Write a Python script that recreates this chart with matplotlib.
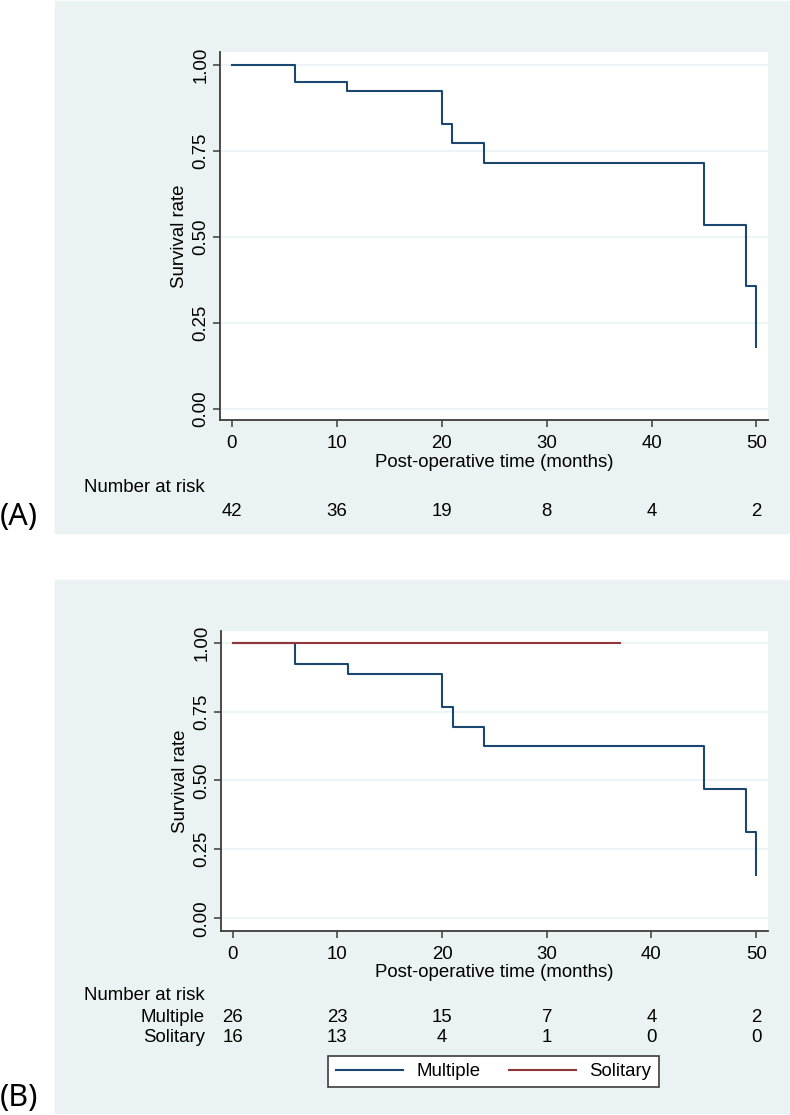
import matplotlib
matplotlib.use("Agg")
import matplotlib.pyplot as plt
from matplotlib.patches import Rectangle
from matplotlib.lines import Line2D
import matplotlib.transforms as transforms

plt.rcParams['font.family'] = ['Liberation Sans', 'DejaVu Sans']

# data
times = [0, 6, 11, 20, 21, 24, 45, 49, 50]
surv_all = [1.0, 0.952, 0.925, 0.828, 0.772, 0.714, 0.535, 0.357, 0.180]
surv_multiple = [1.0, 0.923, 0.885, 0.765, 0.695, 0.625, 0.469, 0.313, 0.156]
times_solitary = [0, 37]
surv_solitary = [1.0, 1.0]

risk_times = [0, 10, 20, 30, 40, 50]
risk_all = [42, 36, 19, 8, 4, 2]
risk_multiple = [26, 23, 15, 7, 4, 2]
risk_solitary = [16, 13, 4, 1, 0, 0]

yticks = [0.0, 0.25, 0.5, 0.75, 1.0]
ytick_labels = ["0.00", "0.25", "0.50", "0.75", "1.00"]

W, H = 790, 1115
bg = "#eaf2f3"
blue = "#1a476f"
red = "#90353b"
spine_col = "#3c3c3c"
fs = 13.4

fig = plt.figure(figsize=(W / 100, H / 100), dpi=100)
fig.patch.set_facecolor("white")


def fx(px):
    return px / W


def fy(py):
    return (H - py) / H


# panel backgrounds
fig.patches.append(Rectangle((fx(55), fy(533)), fx(790) - fx(55), fy(1) - fy(533),
                             transform=fig.transFigure, color=bg, zorder=-10))
fig.patches.append(Rectangle((fx(55), fy(1113)), fx(790) - fx(55), fy(580) - fy(1113),
                             transform=fig.transFigure, color=bg, zorder=-10))


def make_axes(left, right, top, bottom, ylo, yhi):
    ax = fig.add_axes([fx(left), fy(bottom), fx(right) - fx(left), fy(top) - fy(bottom)])
    ax.set_zorder(2)
    ax.set_facecolor("white")
    ax.set_xlim(-1.14, 51.1)
    ax.set_ylim(ylo, yhi)
    ax.set_xticks(risk_times)
    ax.set_yticks(yticks)
    ax.set_yticklabels(ytick_labels, rotation=90, va="center")
    ax.tick_params(axis="both", direction="out", length=5, width=1.1, colors=spine_col,
                   labelcolor="black", labelsize=fs)
    ax.tick_params(axis="x", pad=6)
    ax.tick_params(axis="y", pad=2.5)
    for s in ["top", "right"]:
        ax.spines[s].set_visible(False)
    for s in ["left", "bottom"]:
        ax.spines[s].set_color(spine_col)
        ax.spines[s].set_linewidth(1.3)
    ax.grid(axis="y", color=bg, linewidth=1.2)
    ax.set_axisbelow(True)
    ax.set_ylabel("Survival rate", fontsize=fs)
    ax.yaxis.set_label_coords(-0.058, 0.5)
    ax.set_xlabel("Post-operative time (months)", fontsize=fs, labelpad=1)
    return ax


# panel A
axA = make_axes(220, 768, 52.3, 420, -0.033, 1.037)
axA.step(times, surv_all, where="post", color=blue, lw=1.5)

trA = transforms.blended_transform_factory(axA.transData, fig.transFigure)
fig.text(fx(205), fy(488), "Number at risk", ha="right", va="center", fontsize=fs)
for t, n in zip(risk_times, risk_all):
    axA.text(t, fy(511), str(n), transform=trA, ha="center", va="center", fontsize=fs)
fig.text(fx(0), fy(517), "(A)", ha="left", va="center", fontsize=22, family=["Noto Sans", "DejaVu Sans"])

# panel B
axB = make_axes(220.7, 767.7, 631, 930.7, -0.045, 1.042)
axB.step(times, surv_multiple, where="post", color=blue, lw=1.5)
axB.step(times_solitary, surv_solitary, where="post", color=red, lw=1.5)

trB = transforms.blended_transform_factory(axB.transData, fig.transFigure)
fig.text(fx(205), fy(995), "Number at risk", ha="right", va="center", fontsize=fs)
fig.text(fx(205), fy(1017), "Multiple", ha="right", va="center", fontsize=fs)
fig.text(fx(205), fy(1037), "Solitary", ha="right", va="center", fontsize=fs)
for t, n1, n2 in zip(risk_times, risk_multiple, risk_solitary):
    axB.text(t, fy(1017), str(n1), transform=trB, ha="center", va="center", fontsize=fs)
    axB.text(t, fy(1037), str(n2), transform=trB, ha="center", va="center", fontsize=fs)
fig.text(fx(0), fy(1098), "(B)", ha="left", va="center", fontsize=22, family=["Noto Sans", "DejaVu Sans"])

handles = [Line2D([], [], color=blue, lw=1.5), Line2D([], [], color=red, lw=1.5)]
leg = fig.legend(handles, ["Multiple", "Solitary"], loc="center",
                 bbox_to_anchor=(fx(493.5), fy(1071.5)), ncol=2, fontsize=fs,
                 frameon=True, fancybox=False, edgecolor=spine_col, framealpha=1,
                 handlelength=3.65, handletextpad=0.7, columnspacing=1.5,
                 borderpad=0.4, borderaxespad=0)
leg.get_frame().set_linewidth(1.2)

fig.savefig("out.png", dpi=100)
